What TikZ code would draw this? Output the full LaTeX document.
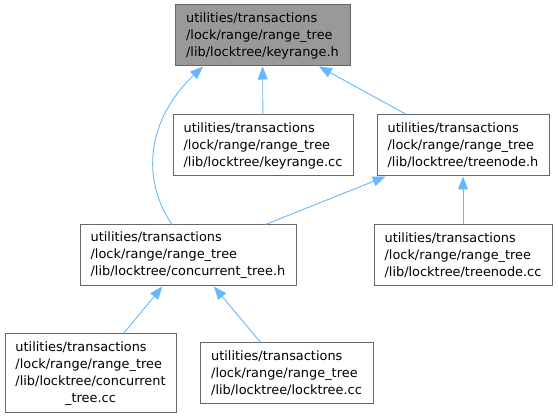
\documentclass[tikz,border=0pt]{standalone}
\usepackage{fontspec}
\setmainfont{DejaVu Sans}
\usetikzlibrary{arrows.meta}
\definecolor{edgeblue}{HTML}{63B8FF}
\definecolor{boxline}{HTML}{666666}
\definecolor{rootfill}{HTML}{999999}
\tikzset{
  filebox/.style={draw=boxline,line width=1pt,align=left,inner sep=0pt,
    minimum height=61pt,font=\fontsize{12.9}{17}\selectfont},
  rootbox/.style={filebox,fill=rootfill},
  incl/.style={draw=edgeblue,line width=0.9pt,-{Triangle[length=13pt,width=10pt]}}
}
\begin{document}
\begin{tikzpicture}[x=1pt,y=1pt]
  \useasboundingbox (0,0) rectangle (558,418);
  \node[rootbox,minimum width=175pt] (krh) at (262.5,382.5) {utilities/transactions\\/lock/range/range\_tree\\/lib/locktree/keyrange.h};
  \node[filebox,minimum width=180pt] (krc) at (263,272.5) {utilities/transactions\\/lock/range/range\_tree\\/lib/locktree/keyrange.cc};
  \node[filebox,minimum width=172pt] (tnh) at (463,272.5) {utilities/transactions\\/lock/range/range\_tree\\/lib/locktree/treenode.h};
  \node[filebox,minimum width=216pt] (cth) at (188,162.5) {utilities/transactions\\/lock/range/range\_tree\\/lib/locktree/concurrent\_tree.h};
  \node[filebox,minimum width=178pt] (tnc) at (463,162.5) {utilities/transactions\\/lock/range/range\_tree\\/lib/locktree/treenode.cc};
  \node[filebox,minimum width=171pt,minimum height=79pt] (ctc) at (90.5,44.5) {\begin{tabular}{@{}l@{}}utilities/transactions\\/lock/range/range\_tree\\/lib/locktree/concurrent\\\multicolumn{1}{@{}c@{}}{\_tree.cc}\end{tabular}};
  \node[filebox,minimum width=173pt] (ltc) at (286.5,44.5) {utilities/transactions\\/lock/range/range\_tree\\/lib/locktree/locktree.cc};
  % included-by edges
  \draw[incl] ([xshift=-16pt]cth.north) .. controls +(-32,47) and +(-55,-52) .. ([xshift=-59.5pt]krh.south);
  \draw[incl] (krc) -- (krh);
  \draw[incl] (tnh) -- (krh);
  \draw[incl] (cth) -- (tnh);
  \draw[incl] (tnc) -- (tnh);
  \draw[incl] (ctc) -- (cth);
  \draw[incl] (ltc) -- (cth);
\end{tikzpicture}
\end{document}
